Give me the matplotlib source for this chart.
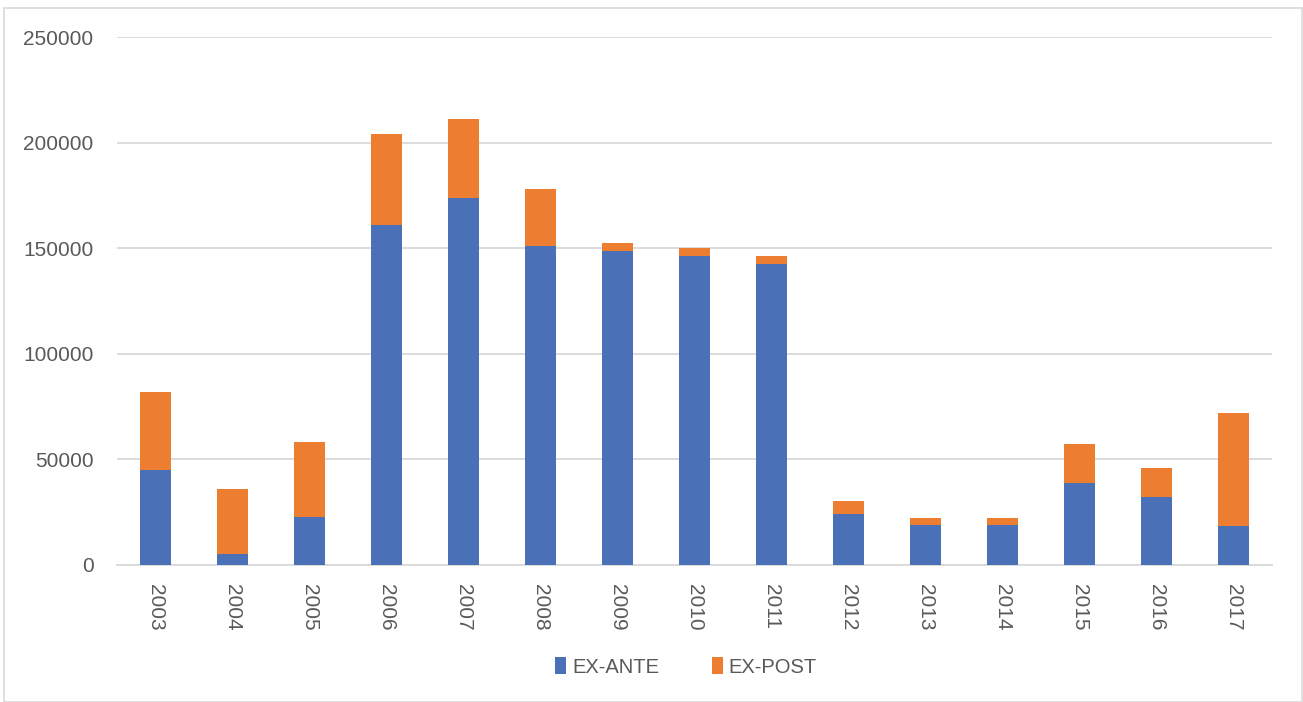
import numpy as np
import matplotlib.pyplot as plt
from matplotlib.patches import Rectangle

years = ["2003", "2004", "2005", "2006", "2007", "2008", "2009", "2010",
         "2011", "2012", "2013", "2014", "2015", "2016", "2017"]
ex_ante = [45000, 5200, 22700, 161000, 174000, 151000, 148700, 146500,
           142600, 24000, 18900, 18800, 38900, 32000, 18400]
ex_post = [37000, 31000, 35500, 43000, 37000, 27000, 3800, 3700,
           3800, 6200, 3200, 3300, 18400, 13700, 53400]

plt.rcParams['font.family'] = ['Liberation Sans', 'DejaVu Sans']

fig = plt.figure(figsize=(13.03, 7.02), dpi=100)
ax = fig.add_axes([117 / 1303, 1 - 565 / 702, 1155 / 1303, 528 / 702])

x = np.arange(len(years))
ax.bar(x, ex_ante, width=0.4, color='#4A70B8', label='EX-ANTE', zorder=3)
ax.bar(x, ex_post, width=0.4, bottom=ex_ante, color='#ED7D31', label='EX-POST', zorder=3)

ax.set_xlim(-0.5, len(years) - 0.5)
ax.set_ylim(0, 250000)
ax.set_yticks(np.arange(0, 250001, 50000))
ax.yaxis.grid(True, color='#d9d9d9', linewidth=1.3, zorder=0)
ax.set_axisbelow(True)
for s in ['top', 'right', 'left']:
    ax.spines[s].set_visible(False)
ax.spines['bottom'].set_color('#d9d9d9')
ax.spines['bottom'].set_linewidth(1.3)
ax.tick_params(length=0, labelsize=15, colors='#595959')
ax.tick_params(axis='y', pad=17)
ax.tick_params(axis='x', pad=14)
ax.set_xticks(x)
ax.set_xticklabels(years, rotation=-90)

ax.legend(loc='center', bbox_to_anchor=(686 / 1303, 1 - 667 / 702),
          bbox_transform=fig.transFigure, ncol=2, frameon=False,
          fontsize=14.5, labelcolor='#595959', handlelength=0.55,
          handleheight=0.9, handletextpad=0.3, columnspacing=2.6)

# light frame around the chart area
fig.patches.append(Rectangle((4 / 1303, 0), 1 - 5 / 1303, 1 - 8 / 702,
                             transform=fig.transFigure, fill=False,
                             edgecolor='#d9d9d9', linewidth=1.2))

fig.savefig('out.png', dpi=100)
